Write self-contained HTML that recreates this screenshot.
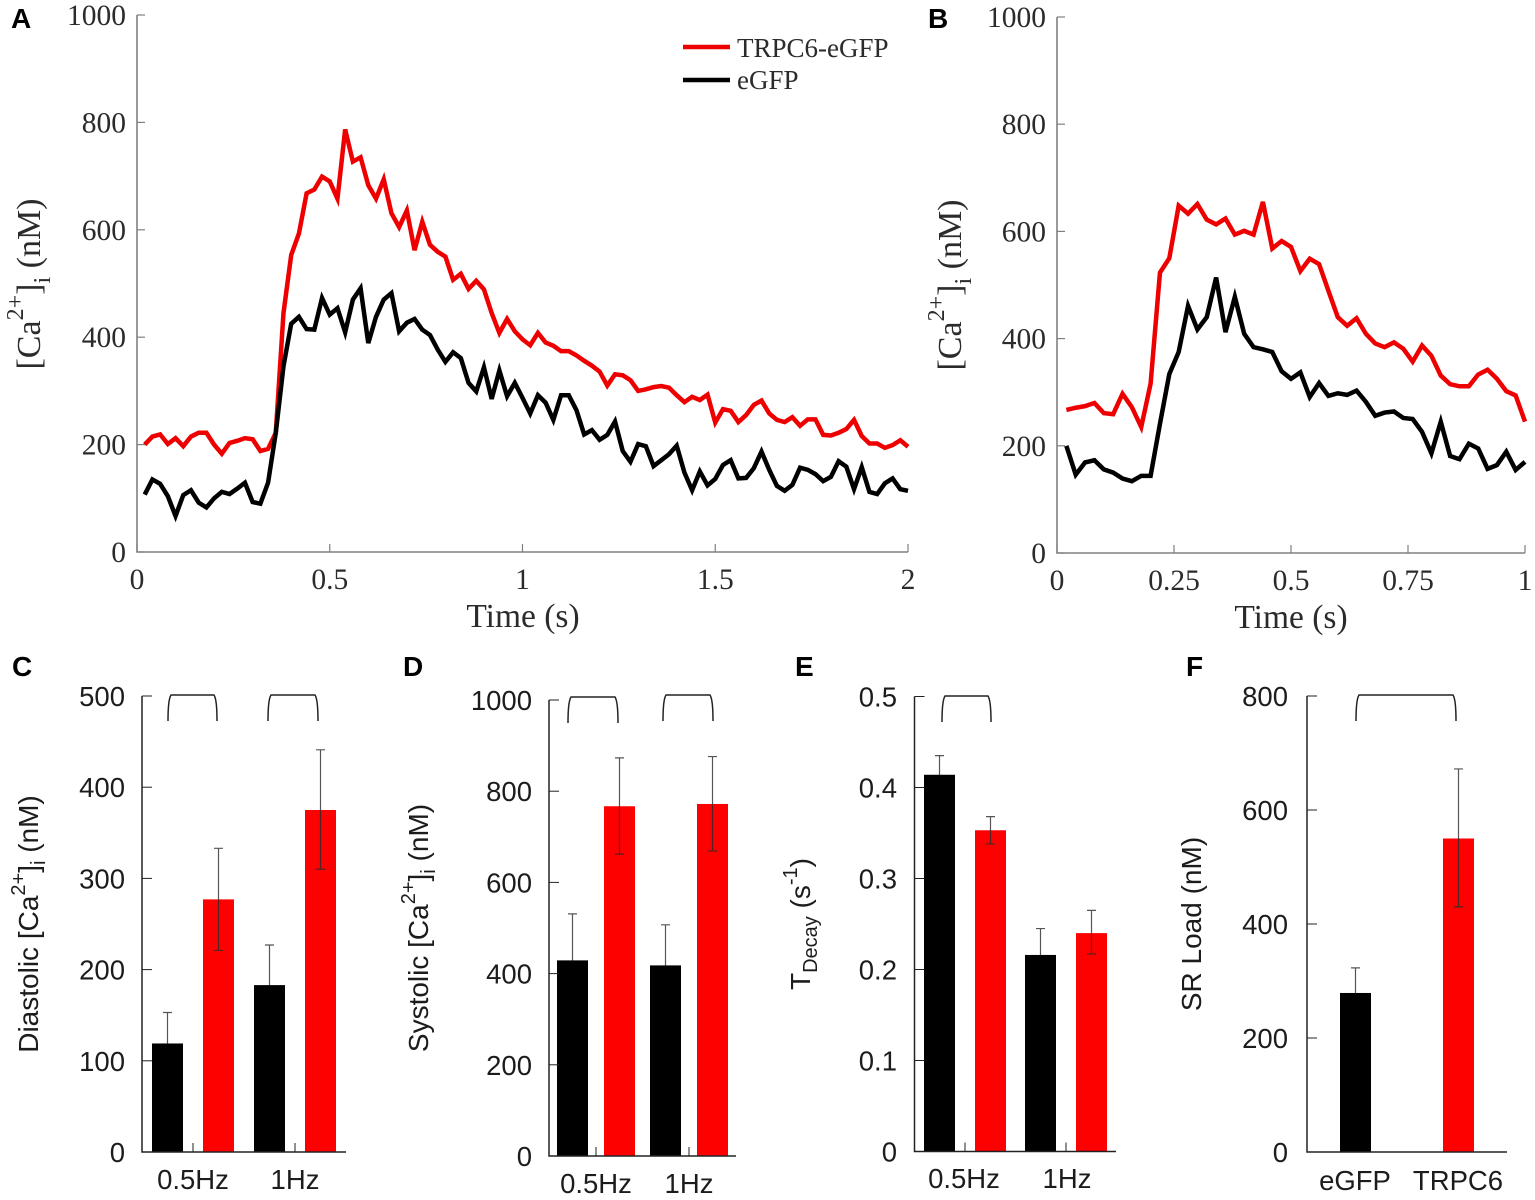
<!DOCTYPE html>
<html lang="en">
<head>
<meta charset="utf-8">
<title>Calcium transients and summary bars</title>
<style>
html,body{margin:0;padding:0;background:#fff}
svg{display:block}
.serif{font-family:"Liberation Serif",serif;fill:#2b2b2b}
.sans{font-family:"Liberation Sans",sans-serif;fill:#1c1c1c}
.letter{font-family:"Liberation Sans",sans-serif;font-weight:700;font-size:28px;fill:#000}
</style>
</head>
<body>
<svg id="figure" xmlns="http://www.w3.org/2000/svg" width="1535" height="1200" viewBox="0 0 1535 1200">
  <rect x="0" y="0" width="1535" height="1200" fill="#fff"/>
  <text class="letter" x="11" y="28">A</text>
  <text class="letter" x="928" y="28">B</text>
  <text class="letter" x="12" y="676">C</text>
  <text class="letter" x="403" y="676">D</text>
  <text class="letter" x="795" y="676">E</text>
  <text class="letter" x="1186" y="676">F</text>

  <text class="serif" font-size="34" text-anchor="middle" transform="translate(40,284) rotate(-90)">[Ca<tspan font-size="24" dy="-17">2+</tspan><tspan dy="17">]</tspan><tspan font-size="24" dy="10">i</tspan><tspan dy="-10"> (nM)</tspan></text>
  <text class="serif" font-size="33.5" text-anchor="middle" x="523" y="627">Time (s)</text>
  <text class="serif" font-size="34" text-anchor="middle" transform="translate(961,285) rotate(-90)">[Ca<tspan font-size="24" dy="-17">2+</tspan><tspan dy="17">]</tspan><tspan font-size="24" dy="10">i</tspan><tspan dy="-10"> (nM)</tspan></text>
  <text class="serif" font-size="33.5" text-anchor="middle" x="1291" y="628">Time (s)</text>

  <g>
    <line x1="683" y1="47" x2="730" y2="47" stroke="#ee0000" stroke-width="4.5"/>
    <text class="serif" x="737" y="57" font-size="27">TRPC6-eGFP</text>
    <line x1="683" y1="80" x2="730" y2="80" stroke="#000" stroke-width="4.5"/>
    <text class="serif" x="737" y="89" font-size="27">eGFP</text>
  </g>

  <text class="sans" font-size="28" text-anchor="middle" transform="translate(38,924) rotate(-90)">Diastolic [Ca<tspan font-size="20" dy="-13">2+</tspan><tspan dy="13">]</tspan><tspan font-size="20" dy="7">i</tspan><tspan dy="-7"> (nM)</tspan></text>
  <text class="sans" font-size="28" text-anchor="middle" transform="translate(428,928) rotate(-90)">Systolic [Ca<tspan font-size="20" dy="-13">2+</tspan><tspan dy="13">]</tspan><tspan font-size="20" dy="7">i</tspan><tspan dy="-7"> (nM)</tspan></text>
  <text class="sans" font-size="28" text-anchor="middle" transform="translate(810,924) rotate(-90)">T<tspan font-size="20" dy="7">Decay</tspan><tspan dy="-7"> (s</tspan><tspan font-size="20" dy="-13">-1</tspan><tspan dy="13">)</tspan></text>
  <text class="sans" font-size="28" text-anchor="middle" transform="translate(1201,924) rotate(-90)">SR Load (nM)</text>
</svg>

<script>
// Panel A traces: nM, one sample every 0.02 s
const sampleIntervalA = 0.02;
const redTraceA = [200,215,219,201,212,197,215,222,222,200,183,203,207,212,210,188,192,222,445,553,593,668,675,699,690,658,787,727,735,683,658,694,631,605,636,562,615,572,559,550,507,518,490,505,489,445,408,434,411,396,385,408,390,384,374,374,366,356,347,336,310,331,329,320,300,303,307,309,306,292,279,289,283,293,241,266,263,242,255,274,282,258,246,242,251,235,247,247,218,217,222,229,246,216,202,202,194,199,208,196];
const blackTraceA = [107,135,127,104,67,106,115,92,83,100,112,108,118,129,93,90,129,222,346,425,438,415,414,473,442,454,409,470,491,389,438,470,482,411,427,434,414,404,377,354,372,361,315,299,344,285,338,290,315,287,258,292,278,246,292,292,264,219,227,209,218,243,188,168,201,197,160,171,182,198,148,115,150,124,136,162,171,137,138,156,187,153,123,114,125,157,153,145,132,140,169,159,117,158,112,108,128,137,117,114];
const xTicksA = [0,0.5,1,1.5,2];
const yTicksTrace = [0,200,400,600,800,1000];

// Panel B traces: nM, one sample every 0.02 s
const sampleIntervalB = 0.02;
const redTraceB = [267,271,274,280,261,259,297,272,235,316,523,550,648,633,651,622,613,624,594,601,594,655,568,582,571,526,549,539,489,440,424,438,409,391,384,393,381,357,387,368,331,315,311,311,333,342,325,302,294,245];
const blackTraceB = [200,146,169,173,156,150,139,134,144,144,241,334,375,461,417,440,514,412,478,409,384,380,375,339,325,337,291,317,293,298,295,303,282,256,262,264,252,250,226,186,245,181,175,204,195,157,164,189,155,170];
const xTicksB = [0,0.25,0.5,0.75,1];

// Panel C
const categoriesC = ['0.5Hz','1Hz'];
const blackC = [119,183];
const blackUpperC = [153,227];
const blackLowerC = [85,140];
const redC = [277,375];
const redUpperC = [333,441];
const redLowerC = [221,310];
const yTicksC = [0,100,200,300,400,500];

// Panel D
const categoriesD = ['0.5Hz','1Hz'];
const blackD = [429,418];
const blackUpperD = [531,507];
const blackLowerD = [327,329];
const redD = [767,772];
const redUpperD = [873,876];
const redLowerD = [662,669];
const yTicksD = [0,200,400,600,800,1000];

// Panel E
const categoriesE = ['0.5Hz','1Hz'];
const blackE = [0.414,0.216];
const blackUpperE = [0.435,0.245];
const blackLowerE = [0.393,0.187];
const redE = [0.353,0.24];
const redUpperE = [0.368,0.265];
const redLowerE = [0.338,0.217];
const yTicksE = [0,0.1,0.2,0.3,0.4,0.5];

// Panel F
const categoriesF = ['eGFP','TRPC6'];
const blackF = [279];
const blackUpperF = [323];
const blackLowerF = [235];
const redF = [550];
const redUpperF = [672];
const redLowerF = [430];
const yTicksF = [0,200,400,600,800];

const NS = 'http://www.w3.org/2000/svg';
const figure = document.getElementById('figure');

function scale(d0, d1, r0, r1) {
  return function (v) { return r0 + (v - d0) * (r1 - r0) / (d1 - d0); };
}
function shape(tag, attrs, parent) {
  const el = document.createElementNS(NS, tag);
  for (const k in attrs) el.setAttribute(k, attrs[k]);
  (parent || figure).appendChild(el);
  return el;
}
function label(str, x, y, size, anchor, cls, parent) {
  const el = shape('text', { x: x, y: y, 'font-size': size, 'text-anchor': anchor, 'class': cls }, parent);
  el.textContent = str;
  return el;
}

function drawTracePanel(id, box, xMax, xTicks, yTicks, interval, red, black) {
  const g = shape('g', {});
  
  
  const x = scale(0, xMax, box.left, box.right);
  const y = scale(0, 1000, box.bottom, box.top);
  const axisColor = '#808080';

  const axes = shape('path', {
    d: 'M' + box.left + ' ' + box.top + 'V' + box.bottom + 'H' + box.right,
    fill: 'none', stroke: axisColor, 'stroke-width': 1.6
  }, g);
  
  

  yTicks.forEach(function (v) {
    const t = shape('line', { x1: box.left, x2: box.left + 8, y1: y(v), y2: y(v), stroke: axisColor, 'stroke-width': 1.2 }, g);
    
    
    const l = label(String(v), box.left - 11, y(v) + 10, 29.5, 'end', 'serif', g);
    
    
  });
  xTicks.forEach(function (v) {
    const t = shape('line', { x1: x(v), x2: x(v), y1: box.bottom, y2: box.bottom - 8, stroke: axisColor, 'stroke-width': 1.2 }, g);
    
    
    const l = label(String(v), x(v), box.bottom + 37, 29.5, 'middle', 'serif', g);
    
    
  });

  function points(series) {
    return series.map(function (v, i) { return x((i + 1) * interval).toFixed(2) + ',' + y(v).toFixed(2); }).join(' ');
  }
  const redLine = shape('polyline', { points: points(red), fill: 'none', stroke: '#ee0000', 'stroke-width': 4.5, 'stroke-linejoin': 'miter' }, g);
  
  
  const blackLine = shape('polyline', { points: points(black), fill: 'none', stroke: '#000', 'stroke-width': 4.5, 'stroke-linejoin': 'miter' }, g);
  
  
}

function drawBarPanel(p) {
  const g = shape('g', {});
  
  
  const yMax = p.yTicks[p.yTicks.length - 1];
  const y = scale(0, yMax, p.bottom, p.top);
  const ink = '#222';

  p.tickX.forEach(function (tx) {
    const t = shape('line', { x1: tx, x2: tx, y1: p.bottom, y2: p.bottom - 9, stroke: ink, 'stroke-width': 1 }, g);
    
    
  });

  function errorBar(cx, hi, lo, name) {
    const e = shape('path', {
      d: 'M' + cx + ' ' + y(hi) + 'V' + y(lo) + 'M' + (cx - 4.5) + ' ' + y(hi) + 'h9M' + (cx - 4.5) + ' ' + y(lo) + 'h9',
      fill: 'none', stroke: '#2a2a2a', 'stroke-opacity': 0.8, 'stroke-width': 1.2
    }, g);
    
    
  }
  function barRect(cx, v, color, name) {
    const r = shape('rect', { x: cx - 15.5, y: y(v), width: 31, height: p.bottom - y(v), fill: color }, g);
    
    
  }
  p.centers.forEach(function (c, i) {
    // black bars hide the lower half of their whisker; red bars show it
    errorBar(c - p.offset, p.blackUpper[i], p.blackLower[i], 'egfp-' + i);
    barRect(c - p.offset, p.black[i], '#000', 'egfp-' + i);
    barRect(c + p.offset, p.red[i], '#fd0000', 'trpc6-' + i);
    errorBar(c + p.offset, p.redUpper[i], p.redLower[i], 'trpc6-' + i);
  });

  const axes = shape('path', {
    d: 'M' + p.left + ' ' + p.top + 'V' + p.bottom + 'H' + p.right,
    fill: 'none', stroke: ink, 'stroke-width': 1.5
  }, g);
  
  

  p.yTicks.forEach(function (v) {
    const t = shape('line', { x1: p.left, x2: p.left + 10, y1: y(v), y2: y(v), stroke: ink, 'stroke-width': 1 }, g);
    
    
    const l = label(String(v), p.labelRight, y(v) + 10, 27.5, 'end', 'sans', g);
    
    
  });
  p.categories.forEach(function (c, i) {
    const l = label(c, p.labelX[i], p.labelY, 27.5, 'middle', 'sans', g);
    
    
  });
  p.brackets.forEach(function (b) {
    const path = shape('path', {
      d: 'M' + b[0] + ' ' + (b[2] + 26) + 'C' + b[0] + ' ' + (b[2] + 14) + ' ' + (b[0] + 1) + ' ' + (b[2] + 3) + ' ' + (b[0] + 3) + ' ' + b[2] +
         'H' + (b[1] - 3) + 'C' + (b[1] - 1) + ' ' + (b[2] + 3) + ' ' + b[1] + ' ' + (b[2] + 14) + ' ' + b[1] + ' ' + (b[2] + 26),
      fill: 'none', stroke: '#222', 'stroke-width': 1.5
    }, g);
    
    
  });
}

drawTracePanel('a', { left: 137, right: 908, top: 15, bottom: 552 }, 2, xTicksA, yTicksTrace, sampleIntervalA, redTraceA, blackTraceA);
drawTracePanel('b', { left: 1057, right: 1525, top: 17, bottom: 553 }, 1, xTicksB, yTicksTrace, sampleIntervalB, redTraceB, blackTraceB);

drawBarPanel({ id: 'c', left: 142, right: 346, top: 696, bottom: 1152, labelRight: 125,
  yTicks: yTicksC, categories: categoriesC, black: blackC, blackUpper: blackUpperC, blackLower: blackLowerC,
  red: redC, redUpper: redUpperC, redLower: redLowerC,
  centers: [193, 295], offset: 25.5, tickX: [193, 295], labelX: [193, 295], labelY: 1189,
  brackets: [[168, 217, 695], [268, 318, 695]] });

drawBarPanel({ id: 'd', left: 549, right: 736, top: 700, bottom: 1156, labelRight: 532,
  yTicks: yTicksD, categories: categoriesD, black: blackD, blackUpper: blackUpperD, blackLower: blackLowerD,
  red: redD, redUpper: redUpperD, redLower: redLowerD,
  centers: [596, 689], offset: 23.5, tickX: [596, 689], labelX: [596, 689], labelY: 1193,
  brackets: [[568, 618, 697], [663, 713, 695]] });

drawBarPanel({ id: 'e', left: 914.5, right: 1116, top: 696.5, bottom: 1151.5, labelRight: 897,
  yTicks: yTicksE, categories: categoriesE, black: blackE, blackUpper: blackUpperE, blackLower: blackLowerE,
  red: redE, redUpper: redUpperE, redLower: redLowerE,
  centers: [965, 1066], offset: 25.5, tickX: [965, 1066], labelX: [964, 1067], labelY: 1188,
  brackets: [[942, 991, 696]] });

drawBarPanel({ id: 'f', left: 1307, right: 1507, top: 696, bottom: 1152, labelRight: 1288,
  yTicks: yTicksF, categories: categoriesF, black: blackF, blackUpper: blackUpperF, blackLower: blackLowerF,
  red: redF, redUpper: redUpperF, redLower: redLowerF,
  centers: [1407], offset: 51.5, tickX: [1355.5, 1458], labelX: [1355, 1458], labelY: 1190,
  brackets: [[1356, 1456, 695]] });
</script>
</body>
</html>
